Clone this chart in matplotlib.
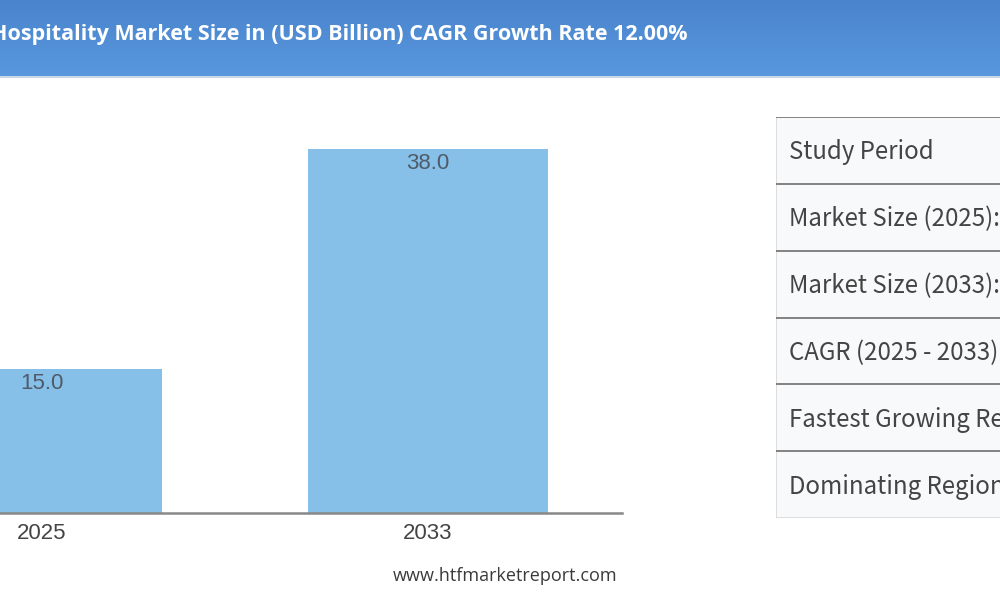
import numpy as np
import matplotlib.pyplot as plt
from matplotlib.colors import LinearSegmentedColormap
from matplotlib.patches import Rectangle

# data
years = ['2025', '2033']
market_size = [15.0, 38.0]
title = 'Hospitality Market Size in (USD Billion) CAGR Growth Rate 12.00%'
table_rows = ['Study Period', 'Market Size (2025):', 'Market Size (2033):',
              'CAGR (2025 - 2033):', 'Fastest Growing Region', 'Dominating Region']
source = 'www.htfmarketreport.com'

fig = plt.figure(figsize=(10, 6), dpi=100)
fig.patch.set_facecolor('white')

# header band (soft vertical gradient)
head = fig.add_axes([0, 1 - 78 / 600, 1, 78 / 600])
head.set_xlim(0, 1)
head.set_ylim(0, 1)
head.axis('off')
hdr_cmap = LinearSegmentedColormap.from_list('hdr', ['#5898de', '#4a84cc'])
head.imshow(np.linspace(1, 0, 64).reshape(-1, 1), cmap=hdr_cmap,
            extent=[0, 1, 0, 1], aspect='auto', interpolation='bilinear')
head.axhline(0.01, color='#c8d8ea', lw=1.5)
head.text(-0.009, 0.56, title, color='white', fontsize=15.5, fontweight='bold',
          family='Open Sans', va='center', ha='left')

# bar chart
ax = fig.add_axes([0, 87 / 600, 622 / 1000, 413 / 600])
x = np.arange(len(years))
ax.bar(x, market_size, width=0.622, color='#86bfe8')
ax.set_xlim(-0.109, 1.503)
ax.set_ylim(0, 43.1)
for xi, v in zip(x, market_size):
    ax.text(xi, v - 1.5, f'{v:.1f}', ha='center', va='center', fontsize=16,
            color='#4f5b68', family='Liberation Sans')
ax.set_xticks(x)
ax.set_xticklabels(years, fontsize=16, color='#444444', family='Liberation Sans')
ax.tick_params(axis='x', length=0, pad=7.5)
ax.set_yticks([])
for s in ['top', 'right', 'left']:
    ax.spines[s].set_visible(False)
ax.spines['bottom'].set_color('#888888')
ax.spines['bottom'].set_linewidth(1.8)
ax.patch.set_alpha(0)

fig.text(0.505, 1 - 576 / 600, source, ha='center', va='center', fontsize=13,
         color='#3a3a3a', family='Open Sans')

# summary table
tab = fig.add_axes([776 / 1000, 1 - 518 / 600, 224 / 1000, 401 / 600])
tab.set_xlim(0, 1)
tab.set_ylim(len(table_rows), 0)
tab.axis('off')
tab.add_patch(Rectangle((0, 0), 1, len(table_rows), color='#f8f9fa', zorder=0))
tab.axvline(0.002, color='#d8d8d8', lw=1.2)
for i, label in enumerate(table_rows):
    tab.axhline(i, color='#6e6e6e', lw=1.2)
    tab.text(0.06, i + 0.53, label, va='center', ha='left', fontsize=17.3,
             color='#444444', family='Noto Sans CJK KR', clip_on=True)
tab.axhline(len(table_rows) - 0.005, color='#d8d8d8', lw=1.2)

fig.savefig('out.png', dpi=100)
